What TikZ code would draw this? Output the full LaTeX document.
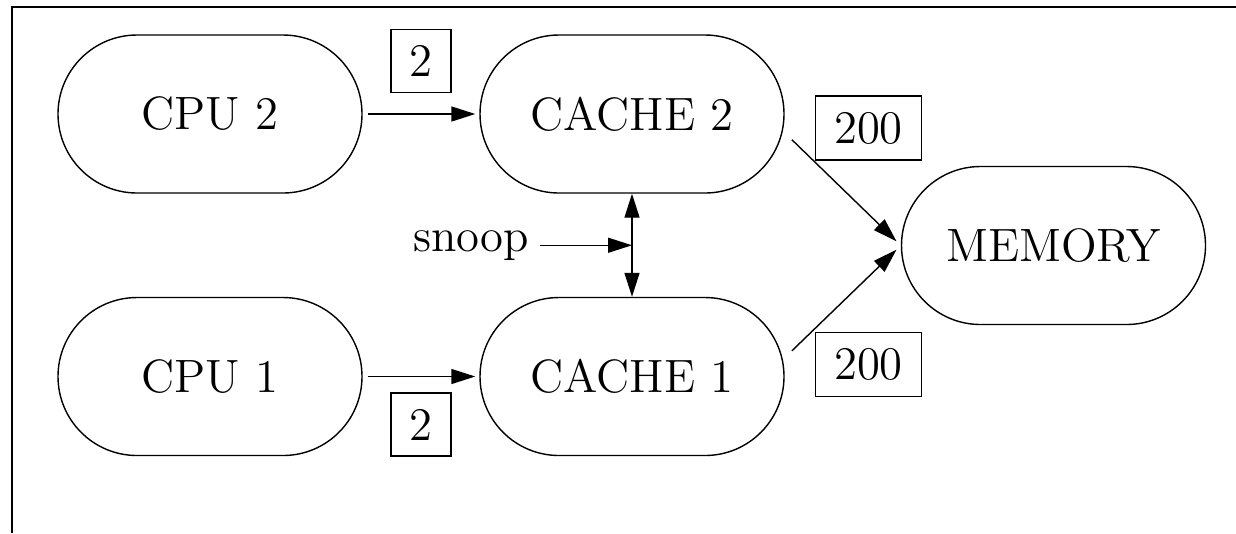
\documentclass[tikz,border=0pt]{standalone}
\usepackage{tikz}
\usetikzlibrary{arrows.meta,positioning,calc}

\begin{document}
\begin{tikzpicture}[>={Triangle[length=0.24cm, width=0.15cm]}, font=\fontsize{13.3pt}{16pt}\selectfont]
        \tikzset{unit/.style={draw, rounded corners=0.79cm, minimum width=3.04cm, minimum height=1.58cm}}
        \tikzset{cost/.style={draw, inner xsep=0.185cm, inner ysep=0.16cm}}
        \useasboundingbox (0,0) rectangle (12.36,-5.33);
        \draw[line width=0.6pt] (0.12,-5.33) -- (0.12,-0.07) -- (12.36,-0.07);
        \node[unit] (cpu2) at (2.10,-1.14) {CPU 2};
        \node[unit] (cache2) at (6.32,-1.14) {CACHE 2};
        \node[unit] (cpu1) at (2.10,-3.765) {CPU 1};
        \node[unit] (cache1) at (6.32,-3.765) {CACHE 1};
        \node[unit] (memory) at (10.535,-2.455) {MEMORY};
        \node[cost] (c2top) at (4.21,-0.61) {2};
        \node[cost] (c2bot) at (4.21,-4.245) {2};
        \node[cost] (c200top) at (8.685,-1.28) {200};
        \node[cost] (c200bot) at (8.685,-3.645) {200};
        \coordinate (tap) at ($(cache2.south)!0.5!(cache1.north)$);
        \node[inner sep=0.1cm, left=0.92cm of tap] (snoop) {snoop};
        \draw[->, shorten <=0.05cm, shorten >=0.04cm] (cpu2) -- (cache2);
        \draw[->, shorten <=0.05cm, shorten >=0.04cm] (cpu1) -- (cache1);
        \draw[<->] (cache2) -- (cache1);
        \draw[->] (snoop) -- (tap);
        \draw[->, shorten <=0.1cm, shorten >=0.06cm] (cache2.-7) -- (memory.west);
        \draw[->, shorten <=0.1cm, shorten >=0.06cm] (cache1.7) -- (memory.west);
    \end{tikzpicture}
\end{document}
